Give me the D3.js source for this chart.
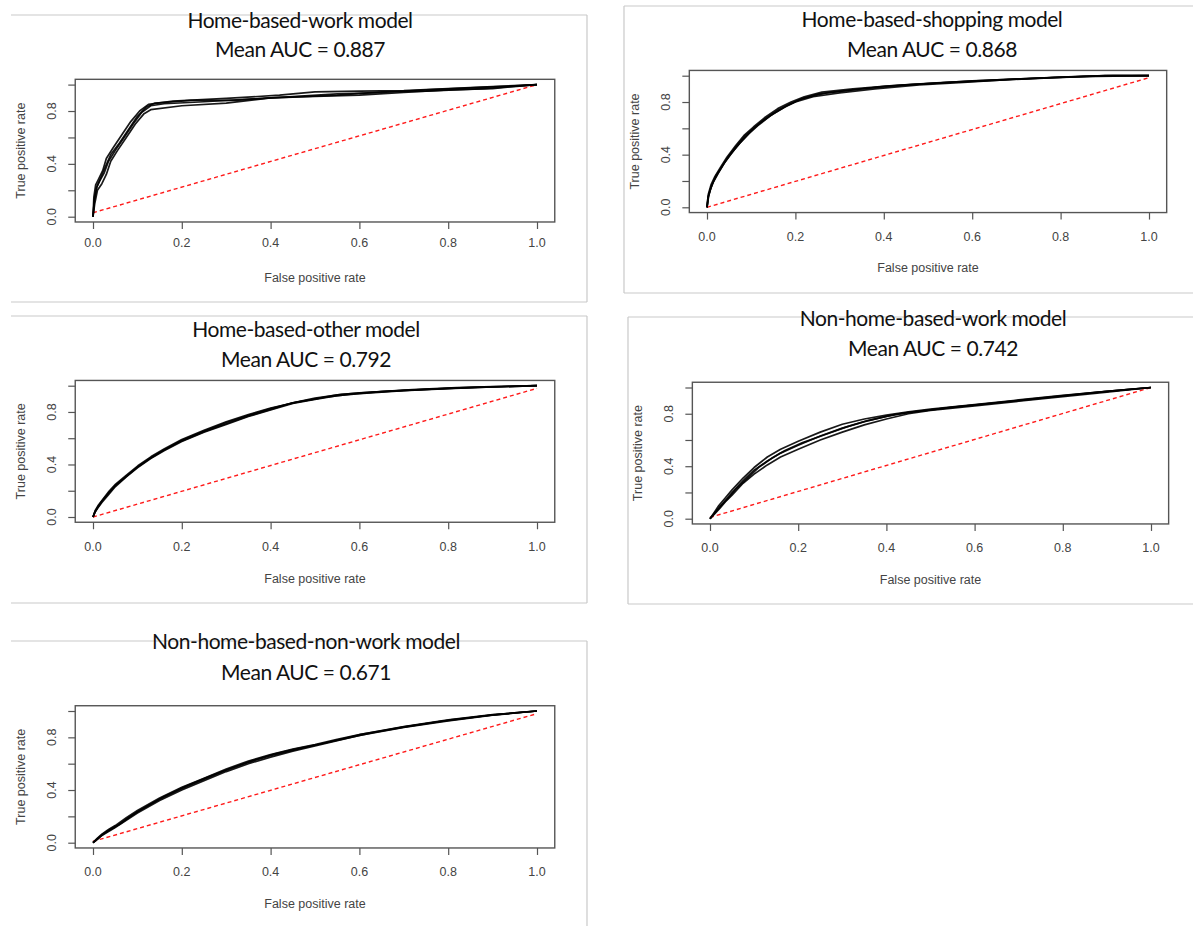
<!DOCTYPE html>
<html>
<head>
<meta charset="utf-8">
<script src="https://cdn.jsdelivr.net/npm/d3@7"></script>
<style>
  html, body { margin: 0; padding: 0; background: #fff; }
  svg { display: block; }
  .ttl { font-family: Lato, "Open Sans", sans-serif; font-size: 21px; letter-spacing: -0.45px; fill: #111; }
  .axl { font-family: "Liberation Sans", Arial, sans-serif; font-size: 12.5px; fill: #444; }
</style>
</head>
<body>
<svg id="chart" width="1193" height="926"></svg>
<script>
// ---------------- DATA ----------------
const modelNames = [
  "Home-based-work model",
  "Home-based-shopping model",
  "Home-based-other model",
  "Non-home-based-work model",
  "Non-home-based-non-work model"
];
const meanAUC = ["0.887", "0.868", "0.792", "0.742", "0.671"];
const xTicks = [0, 0.2, 0.4, 0.6, 0.8, 1.0];
const yTicks = [0, 0.2, 0.4, 0.6, 0.8, 1.0];
const yTickLabels = [0, 0.4, 0.8];
const xTitle = "False positive rate";
const yTitle = "True positive rate";

// ROC curves (false positive rate, true positive rate), several folds per model
const hbwCurves = [
  [[0,0],[0.003,0.12],[0.008,0.22],[0.015,0.27],[0.025,0.33],[0.035,0.42],[0.05,0.5],[0.07,0.6],[0.09,0.7],[0.11,0.79],[0.13,0.84],[0.16,0.855],[0.25,0.87],[0.35,0.89],[0.45,0.91],[0.55,0.93],[0.65,0.94],[0.75,0.96],[0.85,0.975],[0.95,0.99],[1,1]],
  [[0,0],[0.004,0.1],[0.01,0.2],[0.02,0.25],[0.03,0.32],[0.04,0.42],[0.055,0.5],[0.075,0.6],[0.095,0.7],[0.115,0.78],[0.13,0.81],[0.2,0.84],[0.3,0.86],[0.4,0.9],[0.5,0.91],[0.6,0.92],[0.7,0.94],[0.8,0.96],[0.9,0.97],[1,1]],
  [[0,0],[0.002,0.15],[0.006,0.24],[0.012,0.28],[0.022,0.35],[0.03,0.44],[0.045,0.52],[0.065,0.62],[0.085,0.72],[0.105,0.8],[0.125,0.85],[0.18,0.875],[0.3,0.895],[0.42,0.92],[0.5,0.945],[0.6,0.95],[0.7,0.955],[0.8,0.97],[0.9,0.985],[1,1]],
  [[0,0],[0.003,0.13],[0.009,0.23],[0.018,0.3],[0.028,0.38],[0.04,0.47],[0.06,0.56],[0.08,0.66],[0.1,0.76],[0.12,0.83],[0.14,0.86],[0.22,0.88],[0.32,0.88],[0.4,0.9],[0.55,0.92],[0.65,0.945],[0.75,0.95],[0.88,0.97],[0.96,0.99],[1,1]]
];
const hbsCurves = [
  [[0,0],[0.003,0.08],[0.008,0.14],[0.015,0.2],[0.025,0.26],[0.04,0.34],[0.06,0.43],[0.08,0.51],[0.1,0.58],[0.12,0.64],[0.15,0.71],[0.18,0.77],[0.21,0.82],[0.25,0.86],[0.3,0.88],[0.4,0.92],[0.5,0.94],[0.6,0.96],[0.7,0.975],[0.8,0.99],[0.9,1],[1,1]],
  [[0,0],[0.004,0.09],[0.01,0.16],[0.02,0.24],[0.03,0.29],[0.045,0.37],[0.065,0.46],[0.085,0.54],[0.105,0.6],[0.13,0.67],[0.16,0.74],[0.19,0.79],[0.22,0.83],[0.27,0.87],[0.35,0.9],[0.45,0.93],[0.55,0.95],[0.65,0.965],[0.75,0.98],[0.85,0.995],[0.92,1],[1,1]],
  [[0,0],[0.002,0.07],[0.007,0.13],[0.014,0.19],[0.024,0.25],[0.038,0.33],[0.055,0.41],[0.075,0.49],[0.095,0.56],[0.115,0.62],[0.145,0.7],[0.175,0.76],[0.2,0.8],[0.24,0.84],[0.3,0.87],[0.38,0.9],[0.48,0.93],[0.58,0.95],[0.68,0.97],[0.78,0.985],[0.88,0.995],[1,1]],
  [[0,0],[0.003,0.1],[0.009,0.17],[0.018,0.235],[0.03,0.3],[0.045,0.38],[0.065,0.47],[0.085,0.55],[0.105,0.61],[0.13,0.68],[0.16,0.75],[0.19,0.8],[0.22,0.84],[0.26,0.875],[0.33,0.9],[0.42,0.925],[0.52,0.945],[0.62,0.962],[0.72,0.978],[0.82,0.99],[0.9,1],[1,1]]
];
const hboCurves = [
  [[0,0],[0.005,0.04],[0.01,0.07],[0.02,0.12],[0.035,0.18],[0.05,0.24],[0.075,0.31],[0.1,0.38],[0.13,0.45],[0.16,0.51],[0.2,0.58],[0.25,0.65],[0.3,0.71],[0.35,0.77],[0.4,0.82],[0.45,0.87],[0.5,0.9],[0.55,0.93],[0.6,0.945],[0.7,0.965],[0.8,0.98],[0.9,0.99],[1,1]],
  [[0,0],[0.006,0.05],[0.012,0.08],[0.022,0.13],[0.037,0.19],[0.052,0.245],[0.077,0.315],[0.102,0.385],[0.132,0.455],[0.162,0.515],[0.2,0.585],[0.25,0.655],[0.3,0.72],[0.35,0.775],[0.4,0.825],[0.45,0.87],[0.5,0.905],[0.56,0.935],[0.62,0.95],[0.72,0.97],[0.82,0.985],[0.92,0.995],[1,1]],
  [[0,0],[0.004,0.035],[0.01,0.065],[0.02,0.11],[0.035,0.17],[0.05,0.23],[0.075,0.305],[0.1,0.375],[0.13,0.445],[0.16,0.505],[0.2,0.575],[0.25,0.645],[0.3,0.705],[0.35,0.765],[0.4,0.815],[0.45,0.865],[0.5,0.895],[0.55,0.925],[0.6,0.94],[0.7,0.962],[0.8,0.978],[0.9,0.99],[1,1]],
  [[0,0],[0.005,0.05],[0.011,0.085],[0.021,0.13],[0.036,0.195],[0.051,0.25],[0.076,0.32],[0.101,0.39],[0.131,0.46],[0.161,0.52],[0.2,0.59],[0.25,0.66],[0.3,0.725],[0.35,0.78],[0.4,0.83],[0.46,0.875],[0.52,0.91],[0.58,0.935],[0.65,0.955],[0.75,0.972],[0.85,0.987],[0.95,0.997],[1,1]]
];
const nhbwCurves = [
  [[0,0],[0.01,0.04],[0.02,0.08],[0.035,0.14],[0.05,0.2],[0.075,0.29],[0.1,0.37],[0.13,0.44],[0.16,0.5],[0.2,0.56],[0.25,0.63],[0.3,0.69],[0.35,0.74],[0.4,0.78],[0.45,0.81],[0.5,0.83],[0.55,0.85],[0.6,0.865],[0.7,0.9],[0.8,0.935],[0.9,0.97],[0.95,0.985],[1,1]],
  [[0,0],[0.01,0.05],[0.02,0.1],[0.035,0.16],[0.05,0.22],[0.075,0.31],[0.1,0.39],[0.13,0.47],[0.16,0.53],[0.2,0.59],[0.25,0.66],[0.3,0.72],[0.35,0.76],[0.4,0.79],[0.45,0.815],[0.5,0.835],[0.6,0.87],[0.7,0.905],[0.8,0.94],[0.9,0.97],[1,1]],
  [[0,0],[0.01,0.035],[0.02,0.07],[0.035,0.13],[0.05,0.18],[0.075,0.27],[0.1,0.34],[0.13,0.41],[0.16,0.47],[0.2,0.53],[0.25,0.6],[0.3,0.66],[0.35,0.715],[0.4,0.76],[0.45,0.8],[0.5,0.825],[0.6,0.86],[0.7,0.895],[0.8,0.93],[0.9,0.965],[1,1]],
  [[0,0],[0.012,0.05],[0.025,0.1],[0.04,0.15],[0.06,0.23],[0.085,0.31],[0.11,0.39],[0.14,0.46],[0.17,0.52],[0.21,0.58],[0.26,0.64],[0.31,0.7],[0.36,0.75],[0.42,0.795],[0.5,0.83],[0.58,0.86],[0.68,0.895],[0.78,0.93],[0.88,0.965],[1,1]]
];
const nhbnwCurves = [
  [[0,0],[0.01,0.03],[0.02,0.06],[0.035,0.09],[0.05,0.12],[0.075,0.18],[0.1,0.235],[0.15,0.33],[0.2,0.41],[0.25,0.48],[0.3,0.55],[0.35,0.61],[0.4,0.66],[0.45,0.7],[0.5,0.74],[0.55,0.78],[0.6,0.82],[0.65,0.85],[0.7,0.88],[0.75,0.905],[0.8,0.93],[0.85,0.95],[0.9,0.97],[0.95,0.985],[1,1]],
  [[0,0],[0.01,0.035],[0.02,0.065],[0.035,0.1],[0.05,0.13],[0.075,0.19],[0.1,0.245],[0.15,0.34],[0.2,0.42],[0.25,0.49],[0.3,0.56],[0.35,0.62],[0.4,0.67],[0.45,0.71],[0.5,0.745],[0.55,0.785],[0.6,0.82],[0.65,0.852],[0.7,0.882],[0.8,0.932],[0.9,0.972],[1,1]],
  [[0,0],[0.01,0.025],[0.02,0.055],[0.035,0.085],[0.05,0.115],[0.075,0.17],[0.1,0.225],[0.15,0.32],[0.2,0.4],[0.25,0.47],[0.3,0.54],[0.35,0.6],[0.4,0.65],[0.45,0.695],[0.5,0.735],[0.55,0.775],[0.6,0.815],[0.7,0.875],[0.8,0.925],[0.9,0.968],[1,1]],
  [[0,0],[0.012,0.035],[0.025,0.07],[0.04,0.105],[0.06,0.14],[0.085,0.2],[0.11,0.255],[0.16,0.35],[0.21,0.43],[0.26,0.5],[0.31,0.565],[0.36,0.625],[0.41,0.675],[0.46,0.715],[0.52,0.755],[0.58,0.8],[0.63,0.835],[0.7,0.878],[0.78,0.92],[0.88,0.962],[0.96,0.99],[1,1]]
];
// chance lines as drawn in each panel (start, end)
const chanceLines = [
  [[0,0.03],[1,1]],
  [[0,0],[1,0.985]],
  [[0,0],[1,0.98]],
  [[0,0.01],[1,1]],
  [[0,0.01],[1,0.98]]
];
const curveSets = [hbwCurves, hbsCurves, hboCurves, nhbwCurves, nhbnwCurves];

// ---------------- LAYOUT ----------------
const layout = [
  { frame:{top:15, bottom:302, left:11, right:587, lines:["top","bottom","right"]},
    titleX:300, t1:19, t2:48, px:[93,537], py:[216.7,84.6], xLab:243, xTtl:278, yLab:52, yTtl:21 },
  { frame:{top:6, bottom:293, left:624, right:1193, lines:["top","bottom","left"]},
    titleX:932, t1:18, t2:48, px:[707,1149], py:[207.3,75.7], xLab:237, xTtl:268, yLab:666, yTtl:635 },
  { frame:{top:316, bottom:603, left:11, right:587, lines:["top","bottom","right"]},
    titleX:306, t1:328, t2:358, px:[93,537], py:[517,385.7], xLab:547, xTtl:579, yLab:52, yTtl:21 },
  { frame:{top:317, bottom:604, left:628, right:1193, lines:["top","bottom","left"]},
    titleX:933, t1:317, t2:347, px:[710,1151], py:[518.7,387.5], xLab:548, xTtl:580, yLab:669, yTtl:638 },
  { frame:{top:641, bottom:null, left:11, right:587, lines:["top","right"]},
    titleX:306, t1:640, t2:671, px:[93,537], py:[842.7,711], xLab:872, xTtl:904, yLab:52, yTtl:21 }
];

const svg = d3.select("#chart");
const fmt = d3.format(".1f");

layout.forEach((L, i) => {
  const g = svg.append("g");
  const f = L.frame;
  const bottom = f.bottom == null ? 926 : f.bottom;
  const fr = g.append("g").attr("stroke", "#c9c9c9").attr("stroke-width", 1.2).attr("fill", "none");
  if (f.lines.includes("top")) fr.append("line").attr("x1", f.left).attr("x2", f.right).attr("y1", f.top).attr("y2", f.top);
  if (f.lines.includes("bottom")) fr.append("line").attr("x1", f.left).attr("x2", f.right).attr("y1", bottom).attr("y2", bottom);
  if (f.lines.includes("right")) fr.append("line").attr("x1", f.right).attr("x2", f.right).attr("y1", f.top).attr("y2", bottom);
  if (f.lines.includes("left")) fr.append("line").attr("x1", f.left).attr("x2", f.left).attr("y1", f.top).attr("y2", bottom);

  // titles (drawn over the frame line)
  g.append("text").attr("class", "ttl").attr("x", L.titleX).attr("y", L.t1)
    .attr("text-anchor", "middle").attr("dominant-baseline", "central").text(modelNames[i]);
  g.append("text").attr("class", "ttl").attr("x", L.titleX).attr("y", L.t2)
    .attr("text-anchor", "middle").attr("dominant-baseline", "central").text("Mean AUC = " + meanAUC[i]);

  const x = d3.scaleLinear().domain([0, 1]).range(L.px);
  const y = d3.scaleLinear().domain([0, 1]).range(L.py);

  // chance line
  g.append("path").datum(chanceLines[i])
    .attr("d", d3.line().x(d => x(d[0])).y(d => y(d[1])))
    .attr("fill", "none").attr("stroke", "#ff1a1a").attr("stroke-width", 1.4)
    .attr("stroke-dasharray", "4,3");

  // ROC curves
  const line = d3.line().x(d => x(d[0])).y(d => y(d[1]));
  g.append("g").selectAll("path").data(curveSets[i]).join("path")
    .attr("d", line).attr("fill", "none").attr("stroke", "#000")
    .attr("stroke-width", 1.7).attr("stroke-linejoin", "round").attr("opacity", 0.9);

  // plot box (R usr: 4% padding)
  const bx0 = x(-0.04), bx1 = x(1.04), by0 = y(-0.04), by1 = y(1.04);
  g.append("rect").attr("x", bx0).attr("y", by1).attr("width", bx1 - bx0).attr("height", by0 - by1)
    .attr("fill", "none").attr("stroke", "#555").attr("stroke-width", 1.4);

  // x axis
  const xa = g.append("g").attr("transform", `translate(0,${by0})`)
    .call(d3.axisBottom(x).tickValues(xTicks).tickSize(7).tickFormat(() => ""));
  xa.select(".domain").remove();
  xa.selectAll("line").attr("stroke", "#555").attr("stroke-width", 1.2);
  g.selectAll(null).data(xTicks).join("text").attr("class", "axl")
    .attr("x", d => x(d)).attr("y", L.xLab).attr("text-anchor", "middle")
    .attr("dominant-baseline", "central").text(d => fmt(d));
  g.append("text").attr("class", "axl").attr("x", x(0.5)).attr("y", L.xTtl)
    .attr("text-anchor", "middle").attr("dominant-baseline", "central").text(xTitle);

  // y axis
  const ya = g.append("g").attr("transform", `translate(${bx0},0)`)
    .call(d3.axisLeft(y).tickValues(yTicks).tickSize(7).tickFormat(() => ""));
  ya.select(".domain").remove();
  ya.selectAll("line").attr("stroke", "#555").attr("stroke-width", 1.2);
  g.selectAll(null).data(yTickLabels).join("text").attr("class", "axl")
    .attr("transform", d => `translate(${L.yLab},${y(d)}) rotate(-90)`)
    .attr("text-anchor", "middle").attr("dominant-baseline", "central").text(d => fmt(d));
  g.append("text").attr("class", "axl")
    .attr("transform", `translate(${L.yTtl},${y(0.5)}) rotate(-90)`)
    .attr("text-anchor", "middle").attr("dominant-baseline", "central").text(yTitle);
});
</script>
</body>
</html>
